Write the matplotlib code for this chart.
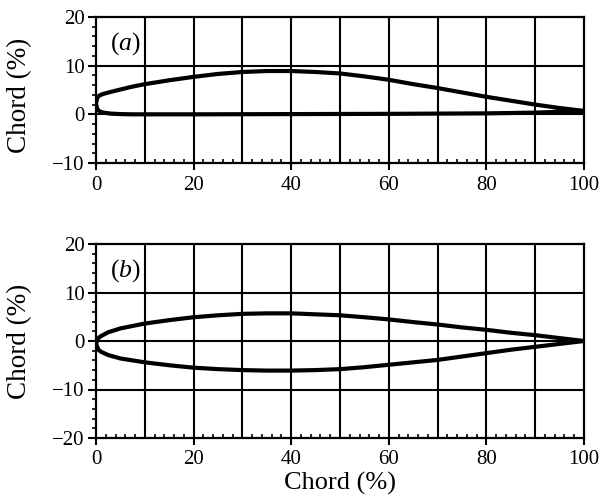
import matplotlib
matplotlib.use("Agg")
import matplotlib.pyplot as plt
from matplotlib.ticker import MultipleLocator
import numpy as np

plt.rcParams['font.family'] = ['Liberation Serif', 'DejaVu Serif']
plt.rcParams['mathtext.fontset'] = 'custom'
plt.rcParams['mathtext.rm'] = 'Liberation Serif'
plt.rcParams['mathtext.it'] = 'Liberation Serif:italic'

# (a) cambered airfoil
a_upper_x = [0, 0.25, 0.75, 1.5, 3, 5, 7.5, 10, 15, 20, 25, 30, 35, 40, 45, 50, 55, 60, 65, 70, 75, 80, 85, 90, 95, 100]
a_upper_y = [2.2, 3.4, 3.9, 4.2, 4.6, 5.1, 5.7, 6.2, 7.0, 7.7, 8.3, 8.7, 8.9, 8.9, 8.7, 8.4, 7.8, 7.1, 6.2, 5.4, 4.5, 3.6, 2.8, 2.0, 1.3, 0.7]
a_lower_x = [0, 0.25, 0.75, 1.5, 3, 5, 7.5, 10, 20, 40, 60, 80, 90, 100]
a_lower_y = [2.2, 1.1, 0.6, 0.35, 0.15, 0.05, 0.0, 0.0, 0.0, 0.05, 0.1, 0.2, 0.35, 0.7]

# (b) symmetric-like airfoil
b_upper_x = [0, 0.5, 1, 2.5, 5, 10, 15, 20, 25, 30, 35, 40, 45, 50, 55, 60, 65, 70, 75, 80, 85, 90, 95, 100]
b_upper_y = [-0.6, 0.6, 1.0, 1.8, 2.6, 3.6, 4.3, 4.9, 5.3, 5.6, 5.7, 5.7, 5.5, 5.3, 4.9, 4.45, 3.9, 3.4, 2.8, 2.3, 1.7, 1.2, 0.6, 0.0]
b_lower_x = [0, 0.5, 1, 2.5, 5, 10, 15, 20, 25, 30, 35, 40, 45, 50, 55, 60, 65, 70, 75, 80, 85, 90, 95, 100]
b_lower_y = [-0.6, -1.8, -2.2, -2.9, -3.6, -4.4, -5.0, -5.5, -5.8, -6.0, -6.1, -6.1, -6.0, -5.8, -5.4, -4.9, -4.4, -3.9, -3.2, -2.5, -1.8, -1.2, -0.6, 0.0]

panel_labels = ['a', 'b']
ylims = [(-10, 20), (-20, 20)]

fig = plt.figure(figsize=(6.02, 5.0), dpi=100)
axA = fig.add_axes([96/602, 1-163/500, (584-96)/602, (163-17)/500])
axB = fig.add_axes([96/602, 1-438/500, (584-96)/602, (438-244)/500])

datasets = [(a_upper_x, a_upper_y, a_lower_x, a_lower_y), (b_upper_x, b_upper_y, b_lower_x, b_lower_y)]

for ax, (ux, uy, lx, ly), lab, yl in zip([axA, axB], datasets, panel_labels, ylims):
    xs = list(ux[::-1]) + list(lx[1:])
    ys = list(uy[::-1]) + list(ly[1:])
    ax.plot(xs, ys, color='black', lw=3.0, solid_joinstyle='round', solid_capstyle='round', zorder=3)
    ax.set_xlim(0, 100)
    ax.set_ylim(*yl)
    ax.xaxis.set_major_locator(MultipleLocator(20))
    ax.xaxis.set_minor_locator(MultipleLocator(2))
    ax.yaxis.set_major_locator(MultipleLocator(10))
    ax.yaxis.set_minor_locator(MultipleLocator(2))
    for x in range(10, 100, 10):
        ax.axvline(x, color='black', lw=1.5, zorder=1)
    for y in range(yl[0] + 10, yl[1], 10):
        ax.axhline(y, color='black', lw=1.5, zorder=1)
    for s in ax.spines.values():
        s.set_linewidth(1.6)
    ax.tick_params(axis='x', which='major', direction='out', length=5, width=1.5, labelsize=15, pad=4)
    ax.tick_params(axis='x', which='minor', direction='in', length=3, width=1.2)
    ax.tick_params(axis='y', which='major', direction='out', length=6, width=1.5, labelsize=15, pad=2)
    ax.tick_params(axis='y', which='minor', direction='out', length=3, width=1.2)
    ax.set_ylabel('Chord (%)', fontsize=19.5, labelpad=9)
    ax.text(6, yl[1] - 5.4, '($' + lab + '$)', fontsize=18.5, ha='center', va='center')

axA.yaxis.set_label_coords(-0.13, 0.46)
axB.yaxis.set_label_coords(-0.13, 0.5)
axB.set_xlabel('Chord (%)', fontsize=19, labelpad=2)

fig.savefig('out.png', dpi=100)
